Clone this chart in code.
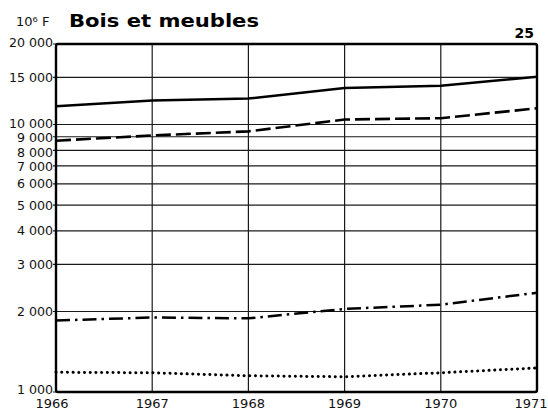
<!DOCTYPE html>
<html>
<head>
<meta charset="utf-8">
<script src="https://cdn.jsdelivr.net/npm/d3@7"></script>
<style>
  body { margin: 0; background: #fff; }
  svg { display: block; }
  .tick-label { font-family: 'DejaVu Sans', sans-serif; font-size: 13px; fill: #111; }
  .y-label { font-size: 12.6px; }
</style>
</head>
<body>
<div class="vis"></div>
<script>
const years = [1966, 1967, 1968, 1969, 1970, 1971]
const yTicks = [1000, 2000, 3000, 4000, 5000, 6000, 7000, 8000, 9000, 10000, 15000, 20000]

// 10^6 F
const solidSeries = [11700, 12300, 12500, 13700, 13950, 15100]
const dashedSeries = [8700, 9100, 9430, 10440, 10560, 11500]
const dashDotSeries = [1850, 1900, 1885, 2045, 2120, 2350]
const dottedSeries = [1185, 1180, 1150, 1140, 1180, 1230]

const width = 548
const height = 415
const margin = { top: 44, right: 11, bottom: 23, left: 56 }

const svg = d3
  .select('.vis')
  .append('svg')
  .attr('width', width)
  .attr('height', height)

const x = d3
  .scaleLinear()
  .domain([1966, 1971])
  .range([margin.left, width - margin.right])

const y = d3
  .scaleLog()
  .domain([1000, 20000])
  .range([height - margin.bottom, margin.top])

const fmt = d => d3.format(',')(d).replace(',', ' ')

// small nudges so the crowded labels stay readable
const labelShift = { 1000: -3, 7000: 0.5, 8000: 2, 9000: 1, 10000: -1.5, 20000: -2 }

// horizontal grid
svg
  .append('g')
  .selectAll('line')
  .data(yTicks)
  .join('line')
  .attr('x1', x(1966) - 3)
  .attr('x2', x(1971))
  .attr('y1', d => y(d))
  .attr('y2', d => y(d))
  .attr('stroke', '#1a1a1a')
  .attr('stroke-width', 1.2)

// vertical grid
svg
  .append('g')
  .selectAll('line')
  .data(years)
  .join('line')
  .attr('x1', d => x(d))
  .attr('x2', d => x(d))
  .attr('y1', y(20000))
  .attr('y2', y(1000))
  .attr('stroke', '#1a1a1a')
  .attr('stroke-width', 1.2)

// frame
svg
  .append('rect')
  .attr('x', x(1966))
  .attr('y', y(20000))
  .attr('width', x(1971) - x(1966))
  .attr('height', y(1000) - y(20000))
  .attr('rx', 2)
  .attr('fill', 'none')
  .attr('stroke', '#000')
  .attr('stroke-width', 2.4)

// y labels
svg
  .append('g')
  .selectAll('text')
  .data(yTicks)
  .join('text')
  .attr('class', 'tick-label y-label')
  .attr('x', x(1966) - 3)
  .attr('y', d => y(d) + (labelShift[d] || 0))
  .attr('dy', '0.36em')
  .attr('text-anchor', 'end')
  .text(fmt)

// x labels
svg
  .append('g')
  .selectAll('text')
  .data(years)
  .join('text')
  .attr('class', 'tick-label')
  .attr('x', d => x(d) + (d === 1966 ? -4 : d === 1971 ? -6 : 0))
  .attr('y', y(1000) + 16)
  .attr('text-anchor', 'middle')
  .text(d => d)

// series
const line = d3
  .line()
  .x((d, i) => x(years[i]))
  .y(d => y(d))

const series = [
  { values: solidSeries, dash: null, width: 2.5, cap: 'butt' },
  { values: dashedSeries, dash: '15,5', width: 2.6, cap: 'butt' },
  { values: dashDotSeries, dash: '14,5,2.5,5', width: 2.5, cap: 'butt' },
  { values: dottedSeries, dash: '0.1,5.6', width: 3, cap: 'round' }
]

series.forEach(s => {
  svg
    .append('path')
    .datum(s.values)
    .attr('d', line)
    .attr('fill', 'none')
    .attr('stroke', '#000')
    .attr('stroke-width', s.width)
    .attr('stroke-linecap', s.cap)
    .attr('stroke-dasharray', s.dash)
})

// titles
svg
  .append('text')
  .attr('x', 16)
  .attr('y', 26)
  .style('font-family', "'DejaVu Sans', sans-serif")
  .style('font-size', '13px')
  .attr('fill', '#111')
  .text('10⁶ F')

svg
  .append('text')
  .attr('x', 69)
  .attr('y', 27)
  .attr('textLength', 190)
  .attr('lengthAdjust', 'spacingAndGlyphs')
  .style('font-family', "'DejaVu Sans', sans-serif")
  .style('font-size', '17px')
  .style('font-weight', 'bold')
  .text('Bois et meubles')

svg
  .append('text')
  .attr('x', 534)
  .attr('y', 38)
  .attr('text-anchor', 'end')
  .style('font-family', "'DejaVu Sans', sans-serif")
  .style('font-size', '14px')
  .style('font-weight', 'bold')
  .text('25')
</script>
</body>
</html>
